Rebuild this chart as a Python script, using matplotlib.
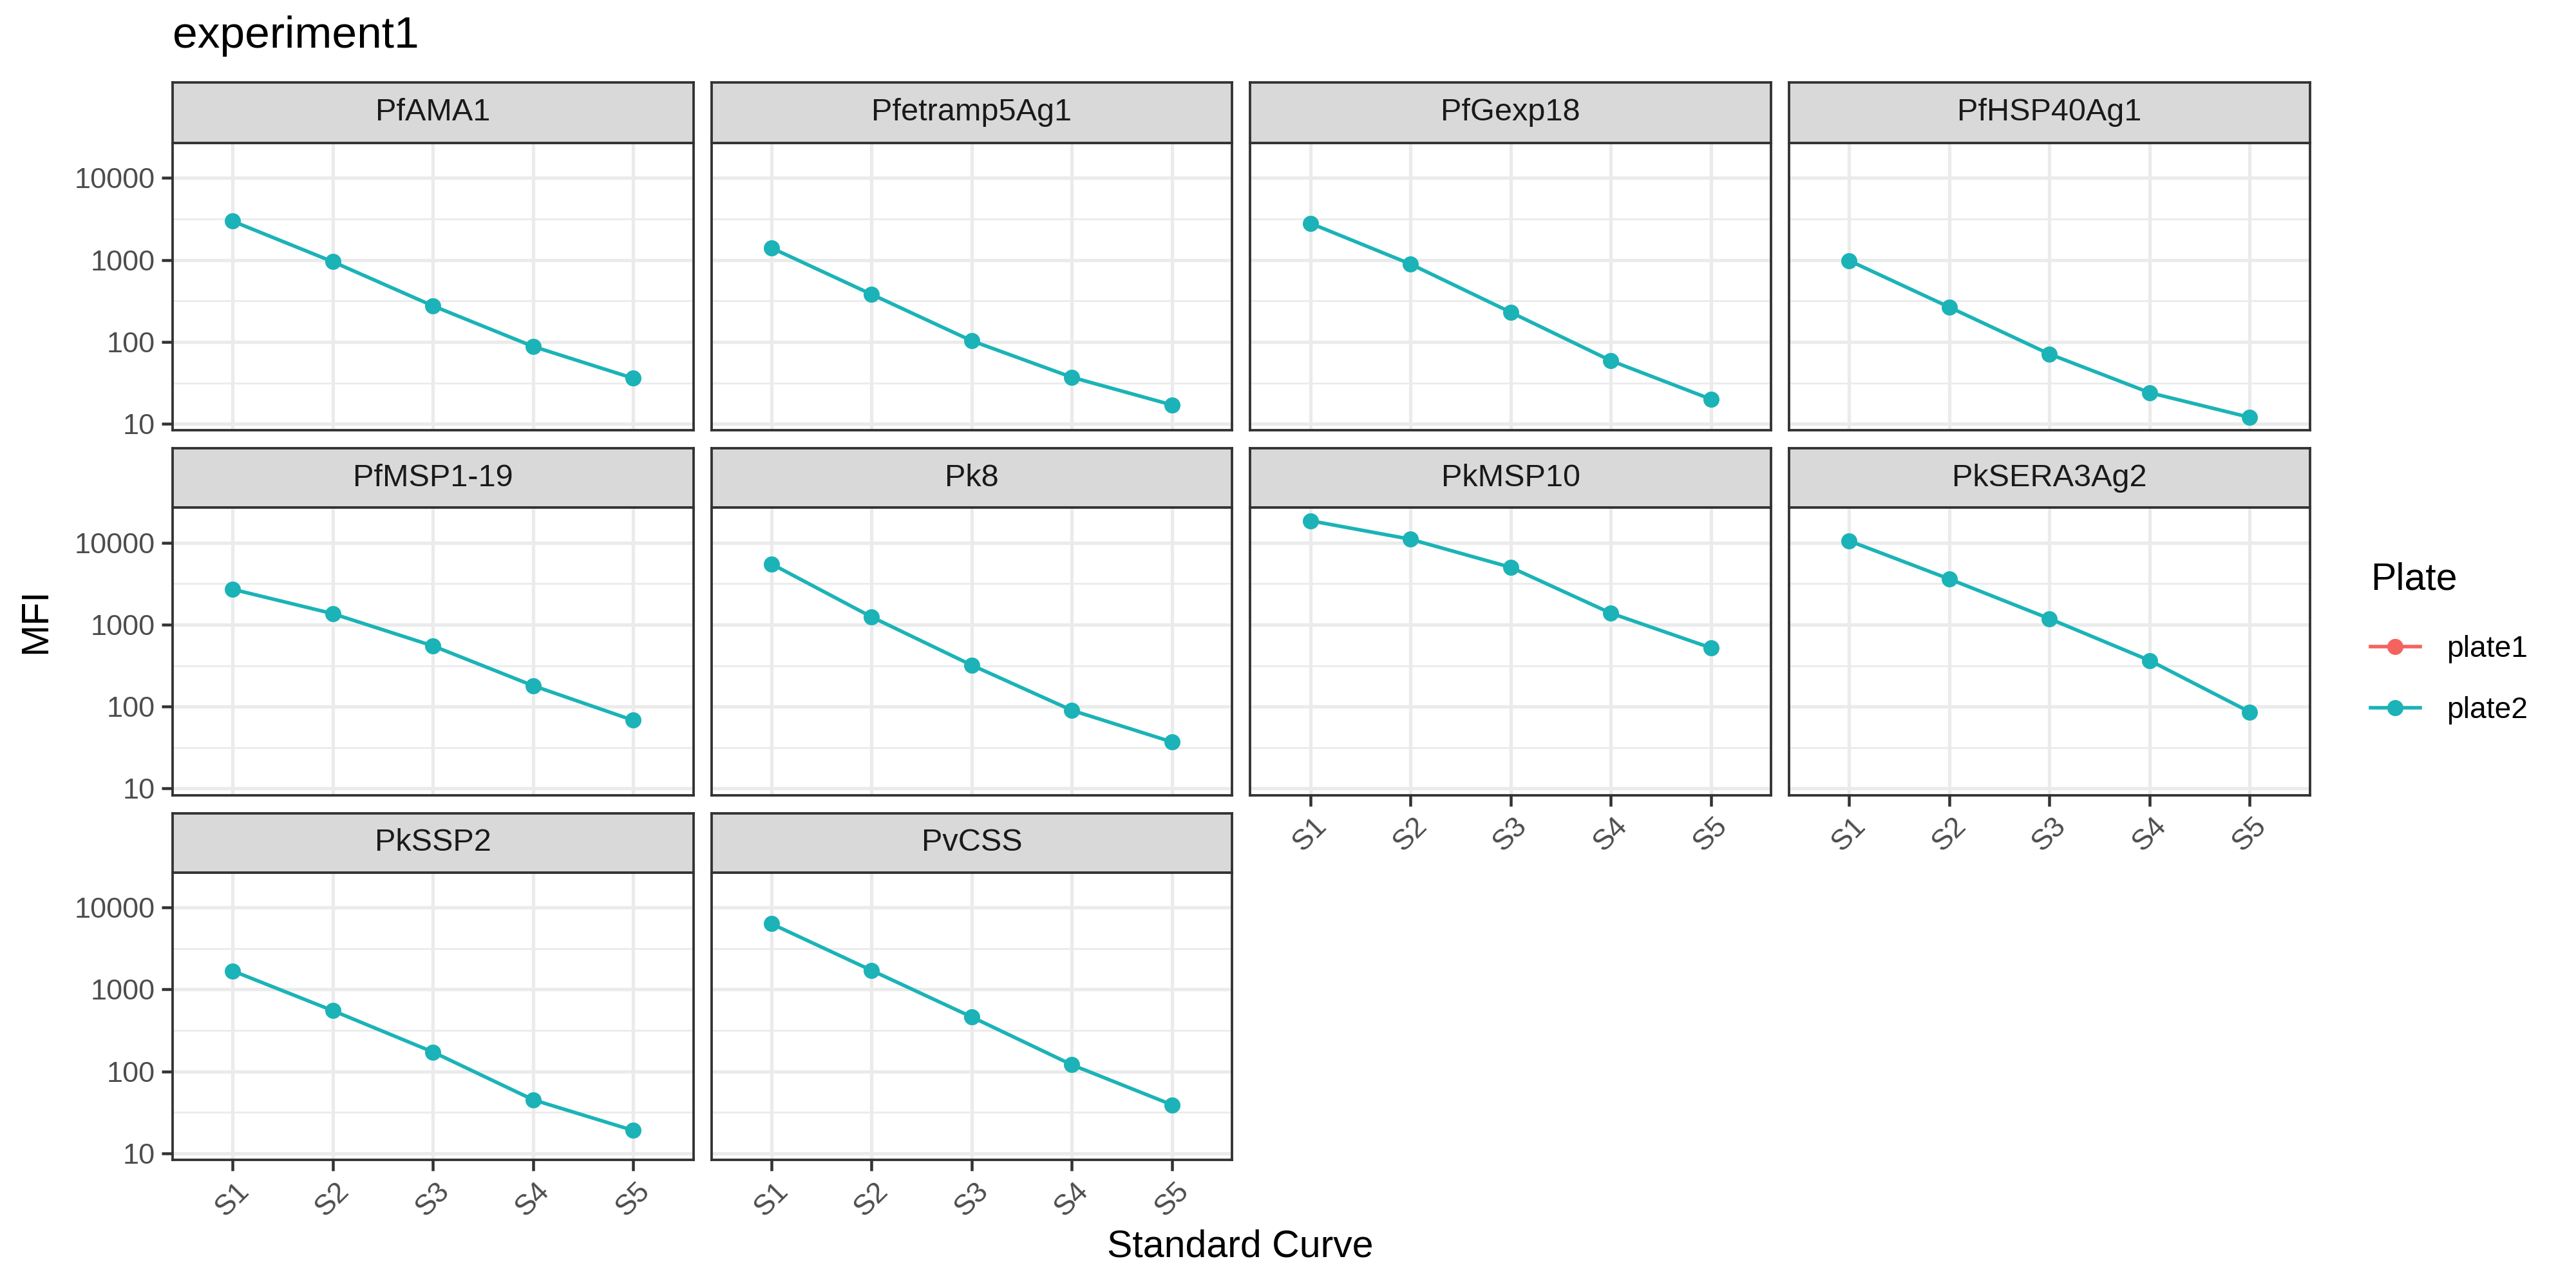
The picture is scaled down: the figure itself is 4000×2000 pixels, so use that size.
import numpy as np
import matplotlib
matplotlib.use("Agg")
import matplotlib.pyplot as plt
from matplotlib.lines import Line2D

plt.rcParams['font.family'] = ['Liberation Sans', 'DejaVu Sans']

# data (MFI per standard curve point, plate2 only)
standards = ["S1", "S2", "S3", "S4", "S5"]
antigens = ["PfAMA1", "Pfetramp5Ag1", "PfGexp18", "PfHSP40Ag1",
            "PfMSP1-19", "Pk8", "PkMSP10", "PkSERA3Ag2",
            "PkSSP2", "PvCSS"]
pfama1 = [2970, 950, 275, 88, 36]
pfetramp5ag1 = [1400, 380, 103, 37, 17]
pfgexp18 = [2800, 890, 230, 59, 20]
pfhsp40ag1 = [980, 265, 71, 24, 12]
pfmsp1_19 = [2700, 1360, 550, 180, 68]
pk8 = [5500, 1240, 320, 90, 37]
pkmsp10 = [18500, 11000, 5000, 1380, 520]
pksera3ag2 = [10500, 3600, 1180, 365, 86]
pkssp2 = [1680, 550, 172, 45, 19]
pvcss = [6300, 1700, 460, 120, 39]
values = [pfama1, pfetramp5ag1, pfgexp18, pfhsp40ag1, pfmsp1_19,
          pk8, pkmsp10, pksera3ag2, pkssp2, pvcss]
plates = ["plate1", "plate2"]
plate_colors = ["#F5635F", "#1BB3B7"]

W, H = 1568.0, 784.0
col_left = [105, 433, 761, 1089]
col_w = 317
rows = [(50, 87, 262), (273, 309, 484), (495, 531, 706)]

# shared log scale with ggplot style 5% expansion
allv = np.log10(np.concatenate([np.array(v, float) for v in values]))
lo, hi = allv.min(), allv.max()
pad = (hi - lo) * 0.05
ylim = (10 ** (lo - pad), 10 ** (hi + pad))

fig = plt.figure(figsize=(16, 8), dpi=250)
grid_col = "#EBEBEB"
border = "#333333"
tick_col = "#4D4D4D"

x = np.arange(1, 6)
for i, (name, vals) in enumerate(zip(antigens, values)):
    r, c = divmod(i, 4)
    st, sb, pb = rows[r]
    left = col_left[c] / W
    wid = col_w / W
    ax = fig.add_axes([left, 1 - pb / H, wid, (pb - sb) / H])
    sax = fig.add_axes([left, 1 - sb / H, wid, (sb - st) / H])

    # strip
    sax.set_facecolor("#D9D9D9")
    sax.set_xticks([])
    sax.set_yticks([])
    for s in sax.spines.values():
        s.set_color(border)
        s.set_linewidth(1.1)
    sax.text(0.5, 0.5, name, ha="center", va="center", fontsize=14,
             color="#1A1A1A", transform=sax.transAxes)

    ax.set_yscale("log")
    ax.set_ylim(ylim)
    ax.set_xlim(0.4, 5.6)
    # grid
    for m in [10, 100, 1000, 10000]:
        ax.axhline(m, color=grid_col, lw=1.5, zorder=0)
    for m in [10 ** 1.5, 10 ** 2.5, 10 ** 3.5]:
        ax.axhline(m, color=grid_col, lw=0.8, zorder=0)
    for xv in x:
        ax.axvline(xv, color=grid_col, lw=1.5, zorder=0)

    ax.plot(x, vals, color=plate_colors[1], lw=1.6, zorder=2)
    ax.plot(x, vals, 'o', color=plate_colors[1], markersize=7.2,
            markeredgewidth=0, zorder=3)

    for s in ax.spines.values():
        s.set_color(border)
        s.set_linewidth(1.1)
    ax.minorticks_off()
    ax.set_yticks([10, 100, 1000, 10000])
    ax.set_xticks(x)
    ax.tick_params(colors=border, length=4.8, width=1.3, labelcolor=tick_col,
                   labelsize=13, pad=3)
    if c == 0:
        ax.set_yticklabels(["10", "100", "1000", "10000"])
    else:
        ax.tick_params(axis="y", length=0, labelleft=False)
    bottom = (r == 2) or (r == 1 and c >= 2)
    if bottom:
        ax.set_xticklabels(standards, rotation=45, ha="center", va="top")
    else:
        ax.tick_params(axis="x", length=0, labelbottom=False)

fig.text(105 / W, 1 - 22 / H, "experiment1", fontsize=20, ha="left",
         va="center", color="black")
fig.text(22 / W, 1 - 378 / H, "MFI", fontsize=17, rotation=90,
         ha="center", va="center")
fig.text(755 / W, 1 - 759 / H, "Standard Curve", fontsize=17,
         ha="center", va="center")

handles = [Line2D([0], [0], color=col, lw=1.6, marker="o", markersize=7.2,
                  markeredgewidth=0) for col in plate_colors]
leg = fig.legend(handles, plates, title="Plate", loc="upper left",
                 bbox_to_anchor=(1443 / W, 1 - 342 / H), frameon=False,
                 fontsize=13.3, title_fontsize=17, handlelength=1.66,
                 labelspacing=1.09, handletextpad=0.89, borderpad=0,
                 borderaxespad=0)
leg._legend_box.align = "left"
leg._legend_box.sep = 17

fig.savefig("out.png", dpi=250, facecolor="white")
